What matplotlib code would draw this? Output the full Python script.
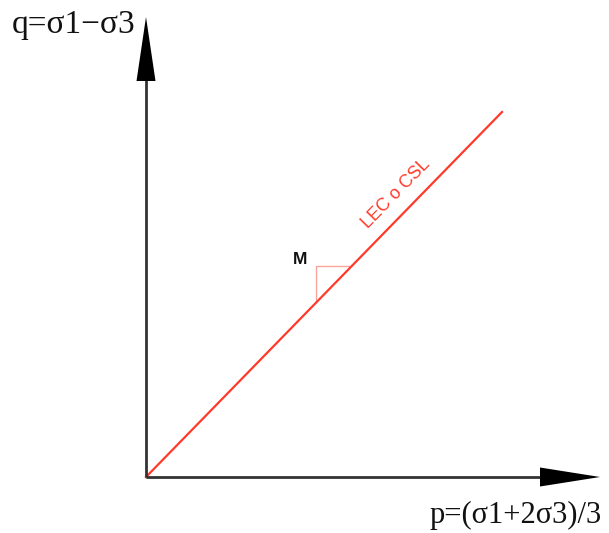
import matplotlib.pyplot as plt

# Stress path diagram (q vs p) with the critical state line
# coordinates are in pixel-sized units measured from the origin

# axis lengths (to the arrow tips)
q_axis_len = 460
p_axis_len = 454

# critical state line (LEC o CSL): start and end points
csl_p = [0, 356]
csl_q = [0, 365]

# slope triangle M
tri_p = [170, 170, 203]
tri_q = [177, 211, 211]

# labels
q_label = 'q=σ1−σ3'
p_label = 'p=(σ1+2σ3)/3'
csl_label = 'LEC o CSL'
m_label = 'M'

fig = plt.figure(figsize=(6.09, 5.33), dpi=100)
ax = fig.add_axes([0, 0, 1, 1])
ax.set_xlim(-146, 463)
ax.set_ylim(-56, 477)
ax.axis('off')

axis_col = '#333333'
red = '#ff3a2a'

# axis stems
ax.plot([0, 0], [0, q_axis_len - 60], color=axis_col, lw=2, zorder=3,
        solid_capstyle='butt')
ax.plot([0, p_axis_len - 56], [0, 0], color=axis_col, lw=2, zorder=3,
        solid_capstyle='butt')
# big black arrowheads
ax.arrow(0, q_axis_len - 64, 0, 64, width=0.1, head_width=19, head_length=64,
         length_includes_head=True, color='black', lw=0, zorder=4)
ax.arrow(p_axis_len - 60, 0, 60, 0, width=0.1, head_width=19, head_length=60,
         length_includes_head=True, color='black', lw=0, zorder=4)

# CSL
ax.plot(csl_p, csl_q, color=red, lw=1.6, zorder=2)

# slope triangle
ax.plot(tri_p, tri_q, color='#f9a59c', lw=1.0, zorder=1)
ax.text(154, 218, m_label, fontsize=12.5, family='Liberation Sans',
        weight='bold', ha='center', va='center', color='#111111')

ax.text(250, 283, csl_label, fontsize=13, family='Liberation Sans',
        color=red, rotation=45.7, rotation_mode='anchor',
        ha='center', va='center')

# axis labels
ax.text(-134, 444, q_label, fontsize=24, family='Liberation Serif',
        ha='left', va='baseline', color='#111111')
ax.text(456, -46, p_label, fontsize=22, family='Liberation Serif',
        ha='right', va='baseline', color='#111111')

plt.savefig('out.png', dpi=100)
